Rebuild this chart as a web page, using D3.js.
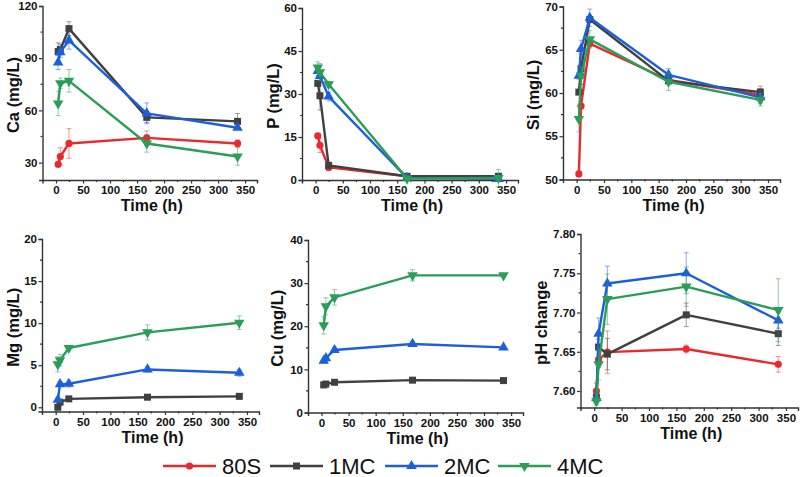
<!DOCTYPE html>
<html><head><meta charset="utf-8">
<script src="https://cdn.jsdelivr.net/npm/d3@7/dist/d3.min.js"></script>
<style>body{margin:0;background:#fff}svg{display:block}</style>
</head><body><svg id="c" width="800" height="477"></svg>
<script>
const times = [4, 8, 24, 168, 336];
const seriesNames = ["80S", "1MC", "2MC", "4MC"];
const seriesColors = ["#e9292d", "#404040", "#1c5fdc", "#2b9d58"];
const seriesMarkers = ["circle", "square", "up", "down"];

// order: 80S, 1MC, 2MC, 4MC (null = series absent)
const caMean = [[29, 33.5, 41, 44.2, 41], [93.8, 95, 107, 56, 53.7], [87.5, 93.5, 100.2, 58.3, 50], [64, 75.6, 77, 41, 33.5]];
const caErr  = [[1.5, 5, 8.5, 4, 2], [5, 3, 4, 3, 4.5], [4, 3, 5, 6, 1], [7, 3, 6.5, 5, 5]];
const pMean = [[15.4, 12.1, 4.4, 1.3, 1.0], [33.7, 29.4, 5.1, 1.3, 1.3], [38, 36.3, 29.1, 0.7, 0.4], [39.2, 37.6, 33.4, 0.5, 0.7]];
const pErr  = [[0.8, 2.5, 1, 0.3, 0.3], [1, 5, 0.8, 0.5, 0.5], [1.5, 1.5, 1.5, 0.3, 0.3], [2, 3, 1, 0.5, 3]];
const siMean = [[50.65, 58.5, 65.7, 61.5, 59.8], [60.1, 62.8, 68.5, 61.4, 60.1], [62, 65.1, 68.7, 62.1, 59.5], [57, 62, 66.2, 61.3, 59.2]];
const siErr  = [[0.1, 0.3, 0.3, 0.3, 1], [0.2, 1.8, 0.3, 0.3, 0.4], [0.4, 1, 1, 0.7, 0.5], [1.5, 1, 1, 1, 0.7]];
const mgMean = [null, [0, 0.6, 1.0, 1.2, 1.3], [0.9, 2.75, 2.8, 4.5, 4.1], [5.1, 5.6, 7.05, 8.9, 10.05]];
const mgErr  = [null, [0.1, 0.2, 0.2, 0.2, 0.3], [0.1, 0.3, 0.4, 0.3, 0.4], [0.9, 0.7, 0.2, 0.9, 0.8]];
const cuMean = [null, [6.4, 6.6, 7.0, 7.5, 7.4], [12, 12.6, 14.5, 15.9, 15.1], [20.2, 24.6, 26.7, 31.8, 31.8]];
const cuErr  = [null, [0.3, 0.3, 0.3, 0.3, 0.2], [0.5, 0.5, 0.6, 0.6, 0.3], [2, 2, 1.8, 1.3, 0.3]];
const phMean = [[7.600, 7.640, 7.6495, 7.6535, 7.634], [7.592, 7.656, 7.647, 7.697, 7.673], [7.591, 7.673, 7.737, 7.750, 7.690], [7.587, 7.634, 7.717, 7.733, 7.703]];
const phErr  = [[0.01, 0.01, 0.027, 0.005, 0.01], [0.005, 0.01, 0.02, 0.015, 0.015], [0.005, 0.02, 0.022, 0.026, 0.01], [0.005, 0.02, 0.032, 0.025, 0.04]];

const xTicks = [0, 50, 100, 150, 200, 250, 300, 350];

const panels = [
  {title: "Ca (mg/L)", mean: caMean, err: caErr, y: [20, 120], yTicks: [30, 60, 90, 120], minor: 15, fmt: d3.format("d"), box: [42.5, 6, 257, 180], tx: 12.5},
  {title: "P (mg/L)", mean: pMean, err: pErr, y: [0, 60], yTicks: [0, 15, 30, 45, 60], minor: 7.5, fmt: d3.format("d"), box: [302, 8, 518, 180], tx: 273},
  {title: "Si (mg/L)", mean: siMean, err: siErr, y: [50, 70], yTicks: [50, 55, 60, 65, 70], minor: 2.5, fmt: d3.format("d"), box: [563, 6.5, 780, 179.5], tx: 533},
  {title: "Mg (mg/L)", mean: mgMean, err: mgErr, y: [-0.5, 20], yTicks: [0, 5, 10, 15, 20], minor: 2.5, fmt: d3.format("d"), box: [42, 239, 259, 411.5], tx: 13},
  {title: "Cu (mg/L)", mean: cuMean, err: cuErr, y: [0, 40], yTicks: [0, 10, 20, 30, 40], minor: 5, fmt: d3.format("d"), box: [308, 240, 523, 412.5], tx: 277},
  {title: "pH change", mean: phMean, err: phErr, y: [7.579, 7.80], yTicks: [7.60, 7.65, 7.70, 7.75, 7.80], minor: 0.025, fmt: d3.format(".2f"), box: [580.5, 234, 798, 407.5], tx: 541}
];

const svg = d3.select("#c");
const font = "'Liberation Sans', Arial, sans-serif";
const axisColor = "#333";

function marker(g, type, x, y, color) {
  if (type === "circle") {
    g.append("circle").attr("cx", x).attr("cy", y).attr("r", 3.6).attr("fill", color);
  } else if (type === "square") {
    g.append("rect").attr("x", x - 3.5).attr("y", y - 3.5).attr("width", 7).attr("height", 7).attr("fill", color);
  } else {
    const s = d3.symbol(d3.symbolTriangle, 48)();
    g.append("path").attr("d", s).attr("fill", color)
      .attr("transform", `translate(${x},${y})` + (type === "down" ? " rotate(180)" : ""));
  }
}

panels.forEach(p => {
  const [x0, y0, x1, y1] = p.box;
  const x = d3.scaleLinear().domain([-25, 372]).range([x0, x1]);
  const y = d3.scaleLinear().domain(p.y).range([y1, y0]);
  const g = svg.append("g");

  // x axis
  const xa = g.append("g").attr("transform", `translate(0,${y1})`)
    .call(d3.axisBottom(x).tickValues(xTicks).tickSize(3.5).tickPadding(2.5));
  const xMinor = d3.range(25, 372, 50);
  xa.selectAll(".minor").data(xMinor).enter().append("line").attr("class", "minor")
    .attr("x1", d => x(d)).attr("x2", d => x(d)).attr("y1", 0).attr("y2", 2);
  // y axis
  const ya = g.append("g").attr("transform", `translate(${x0},0)`)
    .call(d3.axisLeft(y).tickValues(p.yTicks).tickFormat(p.fmt).tickSize(3.5).tickPadding(1.5));
  const yMinor = [];
  for (let v = p.yTicks[0] - p.minor; v <= p.y[1] + 1e-9; v += p.minor * 2) {
    if (v >= p.y[0] - 1e-9) yMinor.push(v);
  }
  ya.selectAll(".minor").data(yMinor).enter().append("line").attr("class", "minor")
    .attr("y1", d => y(d)).attr("y2", d => y(d)).attr("x1", 0).attr("x2", -2);

  [xa, ya].forEach(a => {
    a.select(".domain").attr("stroke", axisColor).attr("stroke-width", 1.4);
    a.selectAll("line").attr("stroke", axisColor).attr("stroke-width", 1.2);
    a.selectAll("text").attr("font-family", font).attr("font-size", 11.5).attr("font-weight", "bold").attr("fill", "#111");
  });

  // titles
  g.append("text").attr("x", (x0 + x1) / 2 + 2).attr("y", y1 + 31)
    .attr("text-anchor", "middle").attr("font-family", font).attr("font-size", 16).attr("font-weight", "bold")
    .attr("fill", "#111").text("Time (h)");
  g.append("text").attr("transform", `translate(${p.tx},${(y0 + y1) / 2 + 2}) rotate(-90)`)
    .attr("text-anchor", "middle").attr("dominant-baseline", "central").attr("font-family", font).attr("font-size", 16.5).attr("font-weight", "bold")
    .attr("fill", "#111").text(p.title);

  // series
  const line = d3.line().x(d => x(d[0])).y(d => y(d[1]));
  p.mean.forEach((vals, si) => {
    if (!vals) return;
    const color = seriesColors[si];
    const errs = p.err[si];
    const sg = g.append("g");
    vals.forEach((v, i) => {
      const e = errs[i];
      const cx = x(times[i]);
      const eg = sg.append("g").attr("stroke", color).attr("stroke-opacity", 0.5).attr("stroke-width", 1);
      eg.append("line").attr("x1", cx).attr("x2", cx).attr("y1", y(v - e)).attr("y2", y(v + e));
      eg.append("line").attr("x1", cx - 2.5).attr("x2", cx + 2.5).attr("y1", y(v - e)).attr("y2", y(v - e));
      eg.append("line").attr("x1", cx - 2.5).attr("x2", cx + 2.5).attr("y1", y(v + e)).attr("y2", y(v + e));
    });
    sg.append("path").datum(vals.map((v, i) => [times[i], v])).attr("d", line)
      .attr("fill", "none").attr("stroke", color).attr("stroke-width", 2.4).attr("stroke-linejoin", "round");
    vals.forEach((v, i) => marker(sg, seriesMarkers[si], x(times[i]), y(v), color));
  });
});

// legend
const legX = [163, 270, 385, 498];
const lg = svg.append("g");
seriesNames.forEach((name, i) => {
  const lx = legX[i], ly = 466;
  lg.append("line").attr("x1", lx).attr("x2", lx + 53).attr("y1", ly).attr("y2", ly)
    .attr("stroke", seriesColors[i]).attr("stroke-width", 2.4);
  marker(lg, seriesMarkers[i], lx + 26.5, ly, seriesColors[i]);
  lg.append("text").attr("x", lx + 59).attr("y", ly + 7.5).attr("font-family", font).attr("font-size", 22)
    .attr("fill", "#111").text(name);
});
</script></body></html>
